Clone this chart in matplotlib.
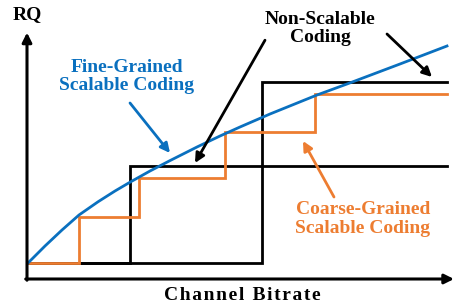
import matplotlib.pyplot as plt

# units: channel bitrate (x) and RQ (y), arbitrary
fine_x = [0.025, 0.45, 0.875, 1.3, 1.775, 2.2, 2.575, 3.075, 3.575, 4.25,
          4.825, 5.325, 6.075, 7.25, 8.0, 9.325, 10.5]
fine_y = [0.4, 0.825, 1.225, 1.6, 1.93, 2.2, 2.42, 2.7, 2.96, 3.3,
          3.575, 3.8, 4.125, 4.6, 4.875, 5.375, 5.825]

coarse_x = [0.025, 1.3, 1.3, 2.8, 2.8, 4.95, 4.95, 7.2, 7.2, 10.5]
coarse_y = [0.4, 0.4, 1.55, 1.55, 2.525, 2.525, 3.675, 3.675, 4.625, 4.625]

nonscal_low_x = [0.025, 2.575, 2.575, 10.5]
nonscal_low_y = [0.4, 0.4, 2.825, 2.825]
nonscal_high_x = [0.025, 5.875, 5.875, 10.5]
nonscal_high_y = [0.4, 0.4, 4.925, 4.925]

BLUE = "#0a70bf"
ORANGE = "#ed7d31"
FONT = ["Liberation Serif", "DejaVu Serif"]

fig = plt.figure(figsize=(4.54, 3.05), dpi=100)
ax = fig.add_axes([27 / 454, 26 / 305, 427 / 454, 244 / 305])
ax.set_xlim(0, 427 / 40)
ax.set_ylim(0, 244 / 40)
ax.axis("off")

ax.plot(nonscal_low_x, nonscal_low_y, color="black", lw=2.0, solid_joinstyle="miter")
ax.plot(nonscal_high_x, nonscal_high_y, color="black", lw=2.0, solid_joinstyle="miter")
ax.plot(coarse_x, coarse_y, color=ORANGE, lw=2.0, solid_joinstyle="miter")
ax.plot(fine_x, fine_y, color=BLUE, lw=2.0, solid_joinstyle="round")

# axes with arrow heads
axis_props = dict(arrowstyle="-|>", color="black", lw=2.2, mutation_scale=14,
                  shrinkA=0, shrinkB=0)
ax.annotate("", xy=(0, 1.01), xytext=(0, -0.005), xycoords="axes fraction",
            arrowprops=axis_props, annotation_clip=False)
ax.annotate("", xy=(1.0, 0), xytext=(-0.003, 0), xycoords="axes fraction",
            arrowprops=axis_props, annotation_clip=False)

ax.text(0.0, 6.6, "RQ", ha="center", va="center", fontsize=14,
        fontweight="bold", family=FONT, clip_on=False)
ax.text(5.375, -0.4, "\u200a".join("Channel Bitrate"), ha="center", va="center",
        fontsize=14, fontweight="bold", family=FONT, clip_on=False)

ax.text(2.5, 5.07, "Fine-Grained\nScalable Coding", ha="center", va="center",
        fontsize=14, fontweight="bold", color=BLUE, family=FONT,
        linespacing=1.1, clip_on=False)
ax.text(7.325, 6.27, "Non-Scalable\nCoding", ha="center", va="center",
        fontsize=14, fontweight="bold", color="black", family=FONT,
        linespacing=1.1, clip_on=False)
ax.text(8.4, 1.5, "Coarse-Grained\nScalable Coding", ha="center", va="center",
        fontsize=14, fontweight="bold", color=ORANGE, family=FONT,
        linespacing=1.1, clip_on=False)

arrow_kw = dict(arrowstyle="-|>", lw=2.0, mutation_scale=14, shrinkA=0, shrinkB=0)
ax.annotate("", xy=(3.575, 3.15), xytext=(2.575, 4.4),
            arrowprops=dict(color=BLUE, **arrow_kw), annotation_clip=False)
ax.annotate("", xy=(4.2, 2.9), xytext=(5.95, 5.97),
            arrowprops=dict(color="black", **arrow_kw), annotation_clip=False)
ax.annotate("", xy=(10.125, 5.05), xytext=(9.0, 6.125),
            arrowprops=dict(color="black", **arrow_kw), annotation_clip=False)
ax.annotate("", xy=(6.9, 3.45), xytext=(7.675, 2.05),
            arrowprops=dict(color=ORANGE, **arrow_kw), annotation_clip=False)

fig.savefig("out.png", dpi=100)
